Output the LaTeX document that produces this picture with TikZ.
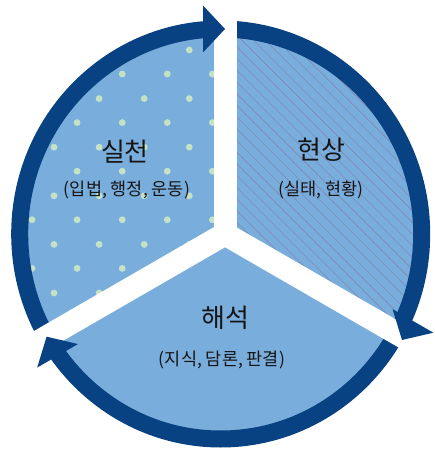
\documentclass[tikz,border=0pt]{standalone}
\usepackage{fontspec}
\setmainfont{Noto Sans CJK KR}
\definecolor{fillblue}{HTML}{79AEDC}
\definecolor{ringblue}{HTML}{084282}
\definecolor{dotgreen}{HTML}{C6E2C4}
\definecolor{hatchc}{HTML}{8088B5}
\definecolor{txt}{HTML}{151515}
\tikzset{
 title/.style={font=\fontsize{26}{29}\selectfont, text=txt, inner sep=0pt},
 sub/.style={font=\fontsize{17.5}{20}\selectfont, text=txt, inner sep=0pt},
 gapband/.style={draw=white, line width=23pt},
 head/.style={fill=ringblue},
 ring/.style={draw=ringblue, line width=17pt},
 dot/.style={fill=dotgreen},
 hatch/.style={draw=hatchc, line width=0.6pt},
}
\begin{document}
\begin{tikzpicture}[x=1pt,y=1pt]
\useasboundingbox (-225,-215) rectangle (209,234);
\coordinate (J) at (0,0);
\coordinate (C) at (-4.3,0);
% sectors
\fill[fillblue] (C) ellipse [x radius=194pt, y radius=198pt];
\begin{scope}
\clip (C) ellipse [x radius=194pt, y radius=198pt];
\clip (0,0) -- (0,300) -- (-300,300) -- (-300,-173.2) -- cycle;
\foreach \i in {-1,...,5} \foreach \j in {-1,...,9} {
 \fill[dot] ({-193+45.1*\i},{160-48.6*\j}) circle (3.4pt);
 \fill[dot] ({-171+45.1*\i},{184-48.6*\j}) circle (3.4pt);
}
\end{scope}
\begin{scope}
\clip (C) ellipse [x radius=194pt, y radius=198pt];
\clip (0,0) -- (0,300) -- (300,300) -- (300,-173.2) -- cycle;
\foreach \k in {-35,...,52} {
 \draw[hatch] ({11.7*\k-300},300) -- ({11.7*\k+300},-300);
}
\end{scope}
% ring
\draw[ring] (C) ellipse [x radius=201pt, y radius=205pt];
% gaps
\draw[gapband] (J) -- (90:300pt);
\draw[gapband] (J) -- (210:300pt);
\draw[gapband] (J) -- (330:300pt);
\fill[white] (J) circle (8pt);
% arrow heads
\coordinate (h1t) at (0,205);
\coordinate (h1a) at (-22,228.5);
\coordinate (h1b) at (-22,181.5);
\coordinate (h2t) at (177,-106);
\coordinate (h2a) at (208.4,-98.7);
\coordinate (h2b) at (167.6,-75.2);
\coordinate (h3t) at (-178.4,-102.7);
\coordinate (h3a) at (-187.8,-133.55);
\coordinate (h3b) at (-147.0,-110.05);
\fill[head] (h1t) -- (h1a) -- (h1b) -- cycle;
\fill[head] (h2t) -- (h2a) -- (h2b) -- cycle;
\fill[head] (h3t) -- (h3a) -- (h3b) -- cycle;
% texts
\node[title] (t1) at (-100,82) {실천};
\node[sub] (s1) at (-98,44) {(입법, 행정, 운동)};
\node[title] (t2) at (96,84) {현상};
\node[sub] (s2) at (96,44) {(실태, 현황)};
\node[title] (t3) at (0,-84) {해석};
\node[sub] (s3) at (-3,-126) {(지식, 담론, 판결)};
\end{tikzpicture}
\end{document}
